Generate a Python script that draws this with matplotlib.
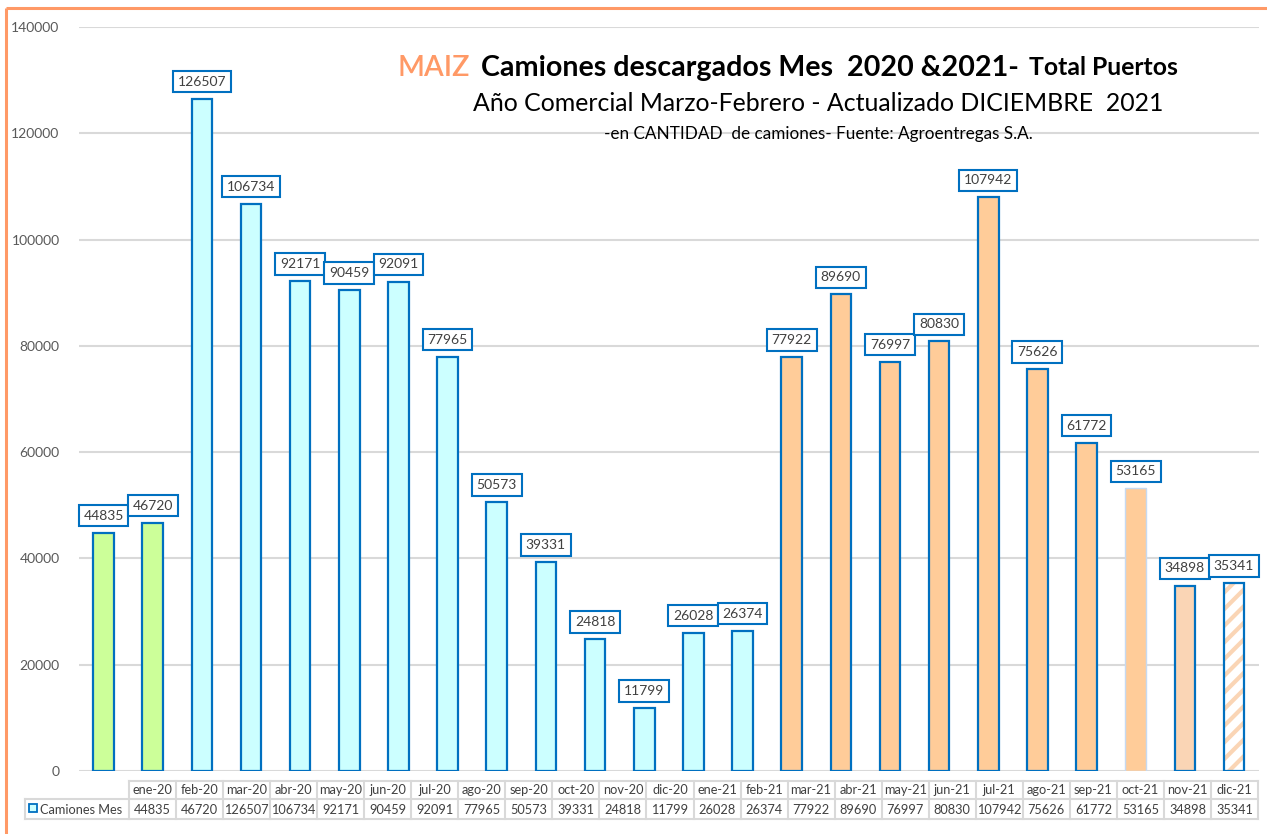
import matplotlib
matplotlib.use("Agg")
import matplotlib.pyplot as plt
from matplotlib.patches import Rectangle
from matplotlib.lines import Line2D

# ---------------- data ----------------
months = ["ene-20", "feb-20", "mar-20", "abr-20", "may-20", "jun-20", "jul-20", "ago-20",
          "sep-20", "oct-20", "nov-20", "dic-20", "ene-21", "feb-21", "mar-21", "abr-21",
          "may-21", "jun-21", "jul-21", "ago-21", "sep-21", "oct-21", "nov-21", "dic-21"]
camiones = [44835, 46720, 126507, 106734, 92171, 90459, 92091, 77965, 50573, 39331,
            24818, 11799, 26028, 26374, 77922, 89690, 76997, 80830, 107942, 75626,
            61772, 53165, 34898, 35341]
series_name = "Camiones Mes"
yticks = [0, 20000, 40000, 60000, 80000, 100000, 120000, 140000]

# ---------------- styles ----------------
FONT = ["Lato", "DejaVu Sans"]
plt.rcParams["font.family"] = FONT
BLUE = "#0070C0"
GREEN = "#CCFF99"
CYAN = "#CCFFFF"
ORANGE = "#FFCC99"
PEACH = "#FAD5B5"
GRID = "#D9D9D9"
TXT = "#404040"
SALMON = "#FF9966"

W, H = 1267, 834
fig = plt.figure(figsize=(W / 100, H / 100), dpi=100)
fig.patch.set_facecolor("white")

# plot area in pixels
L, R, B, T = 79, 1258.6, 771, 27
ax = fig.add_axes([L / W, (H - B) / H, (R - L) / W, (B - T) / H])
ax.set_xlim(-0.5, len(months) - 0.5)
ax.set_ylim(0, 140000)
ax.set_yticks(yticks)
ax.set_yticklabels([str(v) for v in yticks], fontsize=10, color="#595959")
ax.tick_params(axis="y", length=0, pad=14)
ax.set_xticks([])
for s in ax.spines.values():
    s.set_visible(False)
ax.grid(axis="y", color=GRID, linewidth=1.5)
ax.set_axisbelow(True)

bw = 0.42
plt.rcParams["hatch.linewidth"] = 3.0
for i, v in enumerate(camiones):
    m = months[i]
    if m in ("ene-20", "feb-20"):
        ax.bar(i, v, bw, color=GREEN, edgecolor=BLUE, linewidth=1.6, zorder=3)
    elif i < 14:
        ax.bar(i, v, bw, color=CYAN, edgecolor=BLUE, linewidth=1.6, zorder=3)
    elif m == "oct-21":
        ax.bar(i, v, bw, color=ORANGE, edgecolor="#C6D9F0", linewidth=1.0, zorder=3)
    elif m == "nov-21":
        ax.bar(i, v, bw, color=PEACH, edgecolor=BLUE, linewidth=1.6, zorder=3)
    elif m == "dic-21":
        ax.bar(i, v, bw, color="white", edgecolor=PEACH, hatch="//", linewidth=0, zorder=3)
        ax.bar(i, v, bw, color="none", edgecolor=BLUE, linewidth=1.6, zorder=4)
    else:
        ax.bar(i, v, bw, color=ORANGE, edgecolor=BLUE, linewidth=1.6, zorder=3)

for i, v in enumerate(camiones):
    ax.annotate(str(v), (i, v), xytext=(0, 8), textcoords="offset points",
                ha="center", va="bottom", fontsize=10, color=TXT, zorder=6,
                bbox=dict(boxstyle="square,pad=0.34", fc="white", ec=BLUE, lw=1.5))

# ---------------- overlay for title, table, border ----------------
ov = fig.add_axes([0, 0, 1, 1], zorder=10)
ov.set_xlim(0, W)
ov.set_ylim(H, 0)
ov.axis("off")
ov.patch.set_alpha(0)

renderer = fig.canvas.get_renderer()


def fit(txt, x0, x1, base, **kw):
    t = ov.text(x0, base, txt, ha="left", va="baseline", fontsize=10, **kw)
    bb = t.get_window_extent(renderer)
    t.set_fontsize(10 * (x1 - x0) / bb.width)
    return t


fit("MAIZ", 398, 470, 76, color=SALMON, fontweight="semibold")
fit("Camiones descargados Mes  2020 &2021-", 481, 1020, 76, color="black", fontweight="bold")
fit("Total Puertos", 1029, 1178, 75, color="black", fontweight="bold")
fit("Año Comercial Marzo-Febrero - Actualizado DICIEMBRE  2021", 473, 1165, 111, color="black")
fit("-en CANTIDAD  de camiones- Fuente: Agroentregas S.A.", 604, 1032, 139, color="black")

# table
tl, tr = 129, 1258
ytop, ymid, ybot = 781, 799, 819
n = len(months)
cw = (tr - tl) / n
lc = "#D9D9D9"
ov.add_line(Line2D([tl, tr], [ytop, ytop], color=lc, lw=1.5))
ov.add_line(Line2D([25, tr], [ymid, ymid], color=lc, lw=1.5))
ov.add_line(Line2D([25, tr], [ybot, ybot], color=lc, lw=1.5))
ov.add_line(Line2D([25, 25], [ymid, ybot], color=lc, lw=1.5))
for k in range(n + 1):
    xx = tl + k * cw
    ov.add_line(Line2D([xx, xx], [ytop, ybot], color=lc, lw=1.5))
TFS = 9.2
for k, (m, v) in enumerate(zip(months, camiones)):
    cx = tl + (k + 0.5) * cw
    ov.text(cx, (ytop + ymid) / 2 + 0.5, m, ha="center", va="center", fontsize=TFS, color=TXT)
    ov.text(cx, (ymid + ybot) / 2 + 0.5, str(v), ha="center", va="center", fontsize=TFS, color=TXT)
ov.add_patch(Rectangle((29, 804), 8, 8, fc=CYAN, ec=BLUE, lw=1.3))
ov.text(40, (ymid + ybot) / 2 + 0.5, series_name, ha="left", va="center", fontsize=TFS, color=TXT)

# border
ov.add_line(Line2D([6, W], [8, 8], color=SALMON, lw=2.2, solid_capstyle="butt"))
ov.add_line(Line2D([6, 6], [8, H], color=SALMON, lw=2.2, solid_capstyle="butt"))

fig.savefig("out.png", dpi=100)
